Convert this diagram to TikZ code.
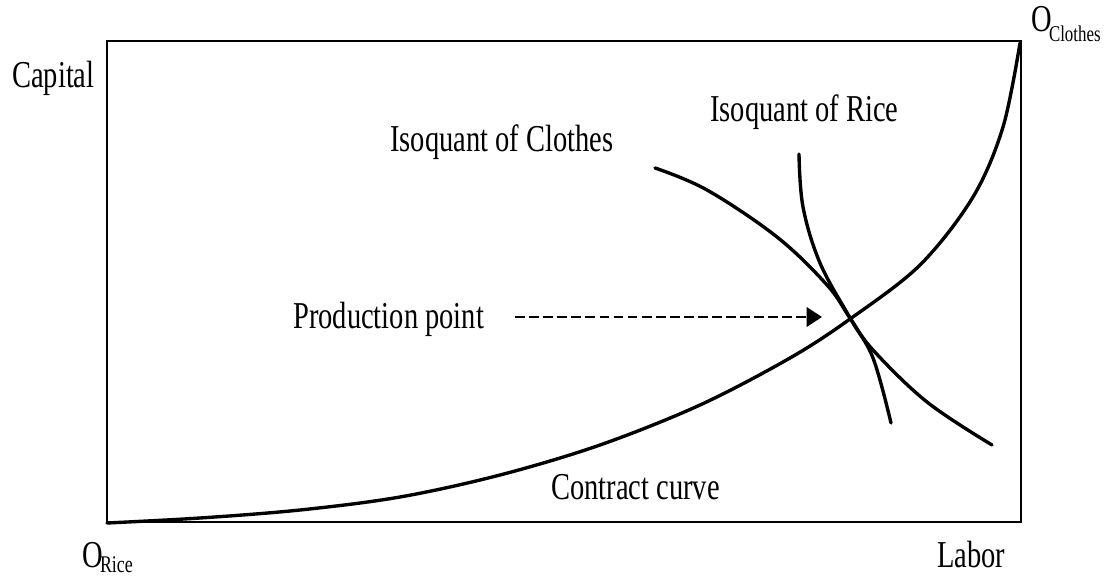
\documentclass[tikz,border=0pt]{standalone}
\usepackage{fontspec}
\setmainfont{Liberation Serif}[FakeStretch=0.75]
\usetikzlibrary{arrows.meta,positioning}

\begin{document}
\begin{tikzpicture}[
  x=0.025cm, y=-0.025cm,
  lbl/.style={font=\fontsize{27}{30}\selectfont, inner sep=0pt, anchor=base west},
  frame/.style={line width=1.4pt},
  curve/.style={line width=2.4pt, line cap=round, line join=round},
  ptarrow/.style={-{Triangle[length=11pt, width=14pt]}, line width=1.4pt, dash pattern=on 7pt off 3pt},
]
\useasboundingbox (0,0) rectangle (1104,578);

% === box ===
\coordinate (orice) at (107,522);
\coordinate (oclothes) at (1021,41);
\draw[frame] (orice) rectangle (oclothes);

% === axis labels ===
\node[lbl] (capital) at (12,88) {Capital};
\node[lbl] (labor) at (937,567) {Labor};
\node[lbl] (origin1) at (82,567) {O\kern-2pt\raisebox{-4pt}{\fontsize{17}{17}\selectfont Rice}};
\node[lbl] (origin2) at (1031,32) {O\kern-2pt\raisebox{-7pt}{\fontsize{16}{16}\selectfont Clothes}};

% === curves ===
\draw[curve] plot[smooth, tension=0.55] coordinates {
  (107,523) (200,518) (300,510) (400,497) (500,475) (600,445) (700,405)
  (790,358) (850,319) (920,265) (973,197) (1003,127) (1020,43)};
\draw[curve] plot[smooth, tension=0.6] coordinates {
  (655,168) (707,190) (777,237) (827,285) (850,318) (873,350) (927,402) (992,445)};
\draw[curve] plot[smooth, tension=0.6] coordinates {
  (799,154) (803,207) (820,263) (850,318) (873,358) (891,423)};

% === curve labels ===
\node[lbl] (isoc) at (390,151) {Isoquant of Clothes};
\node[lbl] (isor) at (710,121) {Isoquant of Rice};
\node[lbl] (cc) at (551,499) {Contract curve};
\node[lbl] (pp) at (293,328) {Production point};

\coordinate (prod) at (822,317);
\draw[ptarrow, shorten <=22] (pp.east |- prod) -- (prod);

\end{tikzpicture}
\end{document}
